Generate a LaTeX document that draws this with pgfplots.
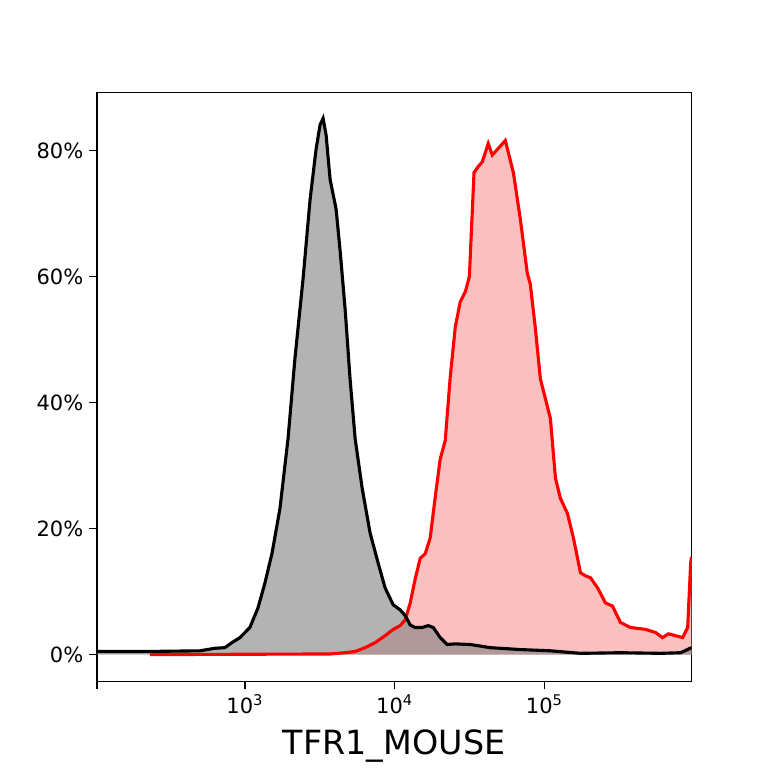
\documentclass[border=0pt]{standalone}
\usepackage{fontspec}
\setmainfont{DejaVu Sans}
\usepackage{pgfplots}
\pgfplotsset{compat=1.18}
\begin{document}
\begin{tikzpicture}
\begin{axis}[
  scale only axis,
  width=337.1pt, height=333.7pt,
  xmin=2.01, xmax=5.983,
  ymin=-4.27, ymax=89.2,
  axis line style={line width=0.95pt},
  xtick={2.01,3,4,5},
  xticklabels={,10\textsuperscript{3},10\textsuperscript{4},10\textsuperscript{5}},
  ytick={0,20,40,60,80},
  yticklabels={0\%,20\%,40\%,60\%,80\%},
  tick align=outside,
  tick pos=left,
  major tick length=4.1pt,
  every tick/.style={line width=0.95pt, black},
  ticklabel style={font=\fontsize{11.9}{14}\selectfont},
  xlabel={TFR1\_MOUSE},
  xlabel style={font=\fontsize{18.9}{22}\selectfont, yshift=-2pt},
  clip=true,
]
\addplot[draw=none, fill={rgb,255:red,247;green,150;blue,150}, fill opacity=0.6] coordinates {
(2.365,0) (3.569,0.1) (3.669,0.3) (3.736,0.5) (3.803,1.1) (3.870,1.9) (3.936,3.0)
(3.990,4.0) (4.037,4.6) (4.070,5.5) (4.104,8.2) (4.137,12.0) (4.171,15.3) (4.204,16.0)
(4.237,18.5) (4.271,25) (4.304,31) (4.338,34) (4.371,44) (4.405,52) (4.438,56)
(4.472,57.6) (4.499,60) (4.530,76.5) (4.559,77.5) (4.585,78.2) (4.625,81.1) (4.652,79.3)
(4.679,80.0) (4.739,81.6) (4.793,76.5) (4.840,69) (4.886,60.5) (4.906,58.8)
(4.940,51.7) (4.973,43.8) (5.007,40.6) (5.040,37.5) (5.074,28) (5.107,24.8) (5.154,22.4)
(5.194,18.5) (5.241,13) (5.274,12.5) (5.308,12.2) (5.355,10.6) (5.408,8.2) (5.455,7.7)
(5.508,5.1) (5.575,4.3) (5.676,4.0) (5.743,3.5) (5.789,2.7) (5.829,3.3) (5.876,3.0)
(5.923,2.7) (5.957,4.3) (5.977,14.5) (5.983,15.5) (5.983,0)
} \closedcycle;
\addplot[draw=none, fill=gray, fill opacity=0.6] coordinates {
(2.010,0.5) (2.365,0.5) (2.699,0.6) (2.799,1.0) (2.866,1.1) (2.913,1.9) (2.967,2.7)
(3.033,4.3) (3.087,7.4) (3.134,11.4) (3.181,16.1) (3.234,23.2) (3.288,34.3) (3.334,47.0)
(3.388,59.6) (3.435,72.2) (3.475,80.2) (3.502,84.1) (3.522,85.1) (3.542,82.5) (3.569,75.4)
(3.609,70.7) (3.635,64.3) (3.669,54.9) (3.702,43.8) (3.736,34.3) (3.783,26.4) (3.836,19.3)
(3.890,14.5) (3.936,10.6) (3.990,7.9) (4.037,7.1) (4.070,6.2) (4.104,4.7) (4.137,4.3)
(4.184,4.3) (4.224,4.6) (4.258,4.3) (4.304,2.7) (4.351,1.6) (4.405,1.7) (4.505,1.6)
(4.639,1.1) (4.839,0.8) (5.040,0.6) (5.241,0.2) (5.508,0.3) (5.776,0.2) (5.910,0.3)
(5.983,1.1) (5.983,0) (2.010,0)
} \closedcycle;
\addplot[red, line width=1.77pt] coordinates {
(2.365,0) (3.569,0.1) (3.669,0.3) (3.736,0.5) (3.803,1.1) (3.870,1.9) (3.936,3.0)
(3.990,4.0) (4.037,4.6) (4.070,5.5) (4.104,8.2) (4.137,12.0) (4.171,15.3) (4.204,16.0)
(4.237,18.5) (4.271,25) (4.304,31) (4.338,34) (4.371,44) (4.405,52) (4.438,56)
(4.472,57.6) (4.499,60) (4.530,76.5) (4.559,77.5) (4.585,78.2) (4.625,81.1) (4.652,79.3)
(4.679,80.0) (4.739,81.6) (4.793,76.5) (4.840,69) (4.886,60.5) (4.906,58.8)
(4.940,51.7) (4.973,43.8) (5.007,40.6) (5.040,37.5) (5.074,28) (5.107,24.8) (5.154,22.4)
(5.194,18.5) (5.241,13) (5.274,12.5) (5.308,12.2) (5.355,10.6) (5.408,8.2) (5.455,7.7)
(5.508,5.1) (5.575,4.3) (5.676,4.0) (5.743,3.5) (5.789,2.7) (5.829,3.3) (5.876,3.0)
(5.923,2.7) (5.957,4.3) (5.977,14.5) (5.983,15.5)
};
\addplot[black, line width=1.77pt] coordinates {
(2.010,0.5) (2.365,0.5) (2.699,0.6) (2.799,1.0) (2.866,1.1) (2.913,1.9) (2.967,2.7)
(3.033,4.3) (3.087,7.4) (3.134,11.4) (3.181,16.1) (3.234,23.2) (3.288,34.3) (3.334,47.0)
(3.388,59.6) (3.435,72.2) (3.475,80.2) (3.502,84.1) (3.522,85.1) (3.542,82.5) (3.569,75.4)
(3.609,70.7) (3.635,64.3) (3.669,54.9) (3.702,43.8) (3.736,34.3) (3.783,26.4) (3.836,19.3)
(3.890,14.5) (3.936,10.6) (3.990,7.9) (4.037,7.1) (4.070,6.2) (4.104,4.7) (4.137,4.3)
(4.184,4.3) (4.224,4.6) (4.258,4.3) (4.304,2.7) (4.351,1.6) (4.405,1.7) (4.505,1.6)
(4.639,1.1) (4.839,0.8) (5.040,0.6) (5.241,0.2) (5.508,0.3) (5.776,0.2) (5.910,0.3)
(5.983,1.1)
};
\end{axis}
\path ([xshift=-54.8pt,yshift=-47.4pt]current axis.south west) rectangle ([xshift=41.7pt,yshift=52.5pt]current axis.north east);
\end{tikzpicture}
\end{document}
